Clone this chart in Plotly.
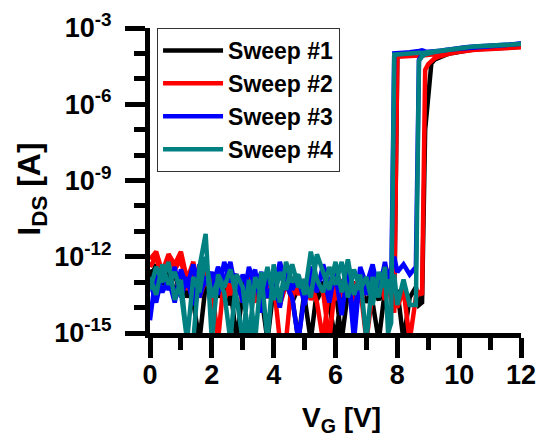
import plotly.graph_objects as go

# Gate voltage grid (V), shared by forward and backward sweeps
V_G = [0.0, 0.2, 0.4, 0.6, 0.8, 1.0, 1.2, 1.4, 1.6, 1.8,
       2.0, 2.2, 2.4, 2.6, 2.8, 3.0, 3.2, 3.4, 3.6, 3.8,
       4.0, 4.2, 4.4, 4.6, 4.8, 5.0, 5.2, 5.4, 5.6, 5.8,
       6.0, 6.2, 6.4, 6.6, 6.8, 7.0, 7.2, 7.4, 7.6, 7.7,
       7.8, 7.9, 8.0, 8.2, 8.4, 8.6, 8.7, 8.8, 8.9, 9.0,
       9.1, 9.2, 9.4, 9.6, 9.8, 10.0, 10.2, 10.4, 10.6, 10.8,
       11.0, 11.2, 11.4, 11.6, 11.8, 12.0]

# log10(I_DS [A]) values, listed in ascending V_G order
S1_FWD = [-12.5, -13.2, -12.4, -13.0, -12.7, -13.5, -12.9, -13.8, -15.3, -13.1,
          -12.8, -13.6, -13.0, -13.9, -13.2, -12.9, -13.7, -13.1, -13.5, -15.3,
          -13.2, -13.8, -13.0, -13.6, -15.3, -13.3, -13.0, -13.7, -13.2, -13.9,
          -15.3, -13.4, -13.0, -13.6, -13.1, -13.8, -13.3, -13.7, -13.0, -13.5,
          -13.2, -13.8, -13.3, -15.3, -13.6, -13.2, -13.9, -13.8, -7.0, -5.6,
          -4.40, -4.25, -4.12, -4.04, -3.98, -3.93, -3.89, -3.86, -3.83, -3.81,
          -3.79, -3.78, -3.77, -3.76, -3.75, -3.74]
S1_BWD = [-12.9, -12.3, -13.1, -12.6, -13.4, -12.8, -13.6, -13.0, -13.3, -12.7,
          -13.5, -13.1, -13.8, -13.2, -15.3, -13.4, -13.0, -13.7, -13.2, -13.6,
          -13.1, -13.5, -12.9, -13.8, -13.2, -13.6, -15.3, -13.3, -13.0, -13.7,
          -13.2, -15.3, -13.4, -13.1, -13.6, -13.0, -13.8, -15.3, -13.3, -13.0,
          -13.6, -14.0, -4.10, -4.09, -4.08, -4.07, -4.06, -4.06, -4.05, -4.05,
          -4.04, -4.03, -4.00, -3.97, -3.94, -3.91, -3.88, -3.85, -3.83, -3.81,
          -3.79, -3.78, -3.77, -3.76, -3.75, -3.74]

S2_FWD = [-12.1, -11.8, -12.6, -11.9, -12.3, -11.8, -12.9, -12.2, -13.4, -12.6,
          -13.1, -15.3, -12.8, -13.5, -12.9, -13.8, -12.7, -13.4, -12.9, -13.6,
          -13.0, -15.3, -15.3, -12.8, -13.5, -12.9, -13.7, -13.1, -13.4, -15.3,
          -13.0, -13.6, -12.8, -13.9, -13.2, -15.3, -13.4, -12.9, -13.7, -13.0,
          -12.4, -13.2, -14.0, -13.3, -15.3, -13.6, -13.4, -13.5, -4.65, -4.42,
          -4.28, -4.20, -4.10, -4.03, -3.98, -3.94, -3.90, -3.87, -3.85, -3.83,
          -3.81, -3.80, -3.79, -3.78, -3.77, -3.76]
S2_BWD = [-12.4, -12.0, -12.9, -11.9, -12.5, -12.1, -13.3, -12.7, -13.6, -12.9,
          -13.4, -12.8, -13.7, -13.1, -12.7, -13.5, -13.0, -13.8, -12.9, -13.4,
          -12.8, -13.9, -13.1, -13.6, -12.9, -13.4, -13.0, -13.8, -15.3, -13.2,
          -13.7, -12.9, -13.5, -13.0, -13.8, -13.2, -13.6, -13.0, -13.5, -12.8,
          -13.7, -14.2, -4.13, -4.11, -4.10, -4.09, -4.08, -4.08, -4.07, -4.07,
          -4.06, -4.05, -4.02, -3.99, -3.96, -3.93, -3.90, -3.87, -3.85, -3.83,
          -3.81, -3.80, -3.79, -3.78, -3.77, -3.76]

S3_FWD = [-14.5, -12.6, -13.4, -12.9, -13.8, -12.5, -13.2, -12.3, -13.6, -12.8,
          -13.3, -12.4, -13.0, -12.2, -13.5, -12.7, -13.3, -12.5, -14.2, -12.8,
          -13.4, -12.2, -13.1, -13.6, -15.3, -13.5, -12.4, -13.0, -12.6, -13.8,
          -12.5, -13.2, -12.7, -14.5, -12.4, -13.1, -12.3, -13.4, -12.2, -12.9,
          -12.5, -12.0, -12.6, -12.3, -12.7, -12.4, -4.25, -4.05, -3.98, -3.96,
          -3.95, -3.93, -3.90, -3.86, -3.82, -3.79, -3.76, -3.74, -3.72, -3.70,
          -3.68, -3.66, -3.65, -3.64, -3.63, -3.62]
S3_BWD = [-13.0, -13.8, -12.7, -13.3, -12.4, -13.6, -12.8, -13.9, -12.3, -13.1,
          -12.6, -13.5, -12.2, -13.0, -12.7, -13.8, -12.4, -13.2, -12.6, -13.6,
          -12.9, -14.0, -12.5, -13.3, -12.8, -13.9, -12.6, -13.4, -12.3, -13.0,
          -12.7, -14.3, -12.5, -15.3, -12.6, -13.5, -12.4, -13.3, -12.8, -12.5,
          -13.4, -4.00, -3.98, -3.97, -3.95, -3.93, -3.90, -3.88, -3.92, -3.93,
          -3.93, -3.92, -3.89, -3.86, -3.82, -3.79, -3.76, -3.74, -3.72, -3.70,
          -3.68, -3.66, -3.65, -3.64, -3.63, -3.62]

S4_FWD = [-12.8, -13.5, -12.3, -13.1, -12.6, -13.4, -15.3, -15.3, -12.4, -11.1,
          -15.3, -12.7, -13.2, -12.5, -13.6, -15.3, -12.9, -15.3, -12.6, -15.3,
          -12.3, -13.8, -12.2, -13.0, -12.7, -13.5, -11.8, -12.9, -13.4, -12.4,
          -13.1, -12.2, -13.6, -12.5, -13.3, -12.8, -13.9, -12.6, -13.2, -12.9,
          -13.5, -12.7, -13.9, -12.9, -13.9, -13.9, -4.30, -4.12, -4.04, -4.00,
          -3.97, -3.95, -3.91, -3.87, -3.83, -3.80, -3.77, -3.74, -3.72, -3.70,
          -3.68, -3.67, -3.66, -3.65, -3.64, -3.63]
S4_BWD = [-13.3, -12.4, -13.0, -12.2, -13.7, -12.9, -15.3, -12.8, -13.4, -12.0,
          -13.6, -12.9, -13.4, -15.3, -12.7, -13.2, -15.3, -12.8, -13.5, -12.4,
          -13.7, -12.6, -13.3, -12.3, -13.2, -12.9, -13.6, -11.9, -12.6, -13.3,
          -12.2, -13.4, -12.1, -13.5, -12.7, -15.3, -12.8, -13.6, -12.4, -15.0,
          -14.6, -4.05, -4.02, -4.01, -3.99, -3.98, -3.97, -3.98, -3.97, -3.96,
          -3.95, -3.94, -3.90, -3.86, -3.83, -3.80, -3.77, -3.74, -3.72, -3.70,
          -3.68, -3.67, -3.66, -3.65, -3.64, -3.63]

SWEEPS = ["Sweep #1", "Sweep #2", "Sweep #3", "Sweep #4"]
COLORS = ["#000000", "#FF0000", "#0000FF", "#008080"]
FWD = [S1_FWD, S2_FWD, S3_FWD, S4_FWD]
BWD = [S1_BWD, S2_BWD, S3_BWD, S4_BWD]

# y-axis ticks (decade exponents)
Y_MAJOR_EXP = [-15, -12, -9, -6, -3]
Y_MINOR_EXP = [-14, -13, -11, -10, -8, -7, -5, -4]
Y_TICKTEXT = ["10<sup>-15</sup>", "10<sup>-12</sup>", "10<sup>-9</sup>",
              "10<sup>-6</sup>", "10<sup>-3</sup>"]
X_TICKS = [0, 2, 4, 6, 8, 10, 12]

fig = go.Figure()
for name, color, f, b in zip(SWEEPS, COLORS, FWD, BWD):
    x = V_G + V_G[::-1]
    y = [10 ** v for v in f] + [10 ** v for v in b[::-1]]
    fig.add_trace(go.Scatter(x=x, y=y, mode="lines", name=name,
                             line=dict(color=color, width=4.5)))

tickfont = dict(family="Liberation Sans", size=27, color="black", weight="bold")

fig.update_layout(
    template="none",
    width=540, height=443,
    margin=dict(l=150, r=19, t=28, b=110, autoexpand=False),
    paper_bgcolor="white", plot_bgcolor="white",
    showlegend=True,
    legend=dict(x=0.019, y=1.0, xanchor="left", yanchor="top",
                bordercolor="#333333", borderwidth=1, bgcolor="white",
                font=dict(family="Liberation Sans", size=23, color="black", weight="bold"),
                itemwidth=60, tracegroupgap=0),
    xaxis=dict(range=[0, 12], tickmode="array", tickvals=X_TICKS,
               showgrid=False, zeroline=False, automargin=False,
               showline=True, linecolor="black", linewidth=5,
               ticks="outside", ticklen=20, tickwidth=5, tickcolor="black",
               tickfont=tickfont, ticklabelstandoff=-6,
               minor=dict(dtick=1, ticks="outside", ticklen=12, tickwidth=5,
                          tickcolor="black", showgrid=False)),
    yaxis=dict(type="log", range=[-15, -3], tickmode="array",
               tickvals=[10.0 ** e for e in Y_MAJOR_EXP], ticktext=Y_TICKTEXT,
               showgrid=False, zeroline=False, automargin=False,
               showline=True, linecolor="black", linewidth=5,
               ticks="outside", ticklen=20, tickwidth=5, tickcolor="black",
               tickfont=tickfont, ticklabelstandoff=8,
               minor=dict(tickmode="array", tickvals=[10.0 ** e for e in Y_MINOR_EXP],
                          ticks="outside", ticklen=11, tickwidth=5,
                          tickcolor="black", showgrid=False)),
    annotations=[
        dict(text="V<sub>G</sub> [V]", xref="paper", yref="paper",
             x=0.515, y=-0.282, xanchor="center", yanchor="middle", showarrow=False,
             font=dict(family="Liberation Sans", size=28, color="black", weight="bold")),
        dict(text="I<sub>DS</sub> [A]", xref="paper", yref="paper", textangle=-90,
             x=-0.318, y=0.47, xanchor="center", yanchor="middle", showarrow=False,
             font=dict(family="Liberation Sans", size=32, color="black", weight="bold")),
    ],
)

fig.write_html("out.html", config={"displayModeBar": False},
               post_script="document.body.style.margin='0';document.body.style.padding='0';")
